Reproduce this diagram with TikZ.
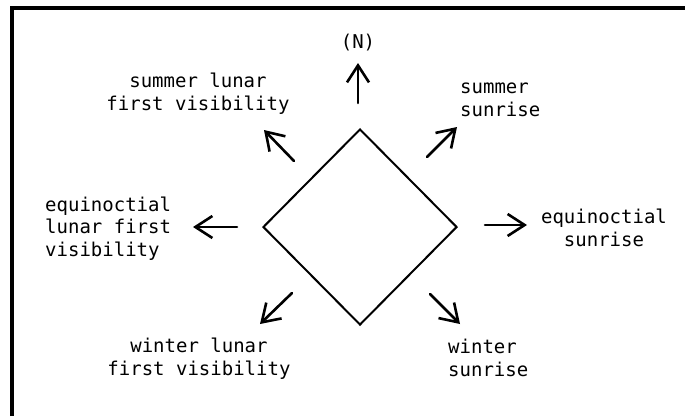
\documentclass[tikz,border=0pt]{standalone}
\usepackage{fontspec}
\usetikzlibrary{arrows.meta,shapes.geometric}
\newfontfamily\lblfont{DejaVu Sans Mono}

\begin{document}
\begin{tikzpicture}[x=1pt, y=-1pt, >={Straight Barb[length=17pt,width=22pt]},
    lbl/.style={font=\lblfont\fontsize{19}{22.5}\selectfont, inner sep=0pt},
    ray/.style={->, line width=2.6pt, line cap=round}]
    \useasboundingbox (0,0) rectangle (685,416);

    % Frame
    \draw[line width=4pt] (12,416) -- (12,8) -- (685,8);

    % Plan
    \node[draw, diamond, line width=2pt, inner sep=0pt,
          minimum width=194pt, minimum height=196pt] (plan) at (360,227) {};

    % Labels (base = baseline of the last line)
    \node[lbl, anchor=base] (north) at (358,48) {(N)};
    \node[lbl, align=center, anchor=base] (sumlunar) at (198,110) {summer lunar\\first visibility};
    \node[lbl, align=left, anchor=base west] (sumrise) at (460,116) {summer\\sunrise};
    \node[lbl, align=left, anchor=base west] (eqlunar) at (45,256) {equinoctial\\lunar first\\visibility};
    \node[lbl, align=center, anchor=base] (eqrise) at (604,246) {equinoctial\\sunrise};
    \node[lbl, align=center, anchor=base] (winlunar) at (199,375) {winter lunar\\first visibility};
    \node[lbl, align=left, anchor=base west] (winrise) at (448,376) {winter\\sunrise};

    % Directions
    \foreach \dir/\tx/\ty/\hx/\hy in {n/358/103/358/63, ne/427/157/457/127,
        e/485/225/527/225, se/430/294/460/324, sw/292/293/260/324,
        w/237/227/193/227, nw/294/161/264/130} {
        \coordinate (\dir-tail) at (\tx,\ty);
        \coordinate (\dir-head) at (\hx,\hy);
        \draw[ray] (\dir-tail) -- (\dir-head);
    }
\end{tikzpicture}
\end{document}
